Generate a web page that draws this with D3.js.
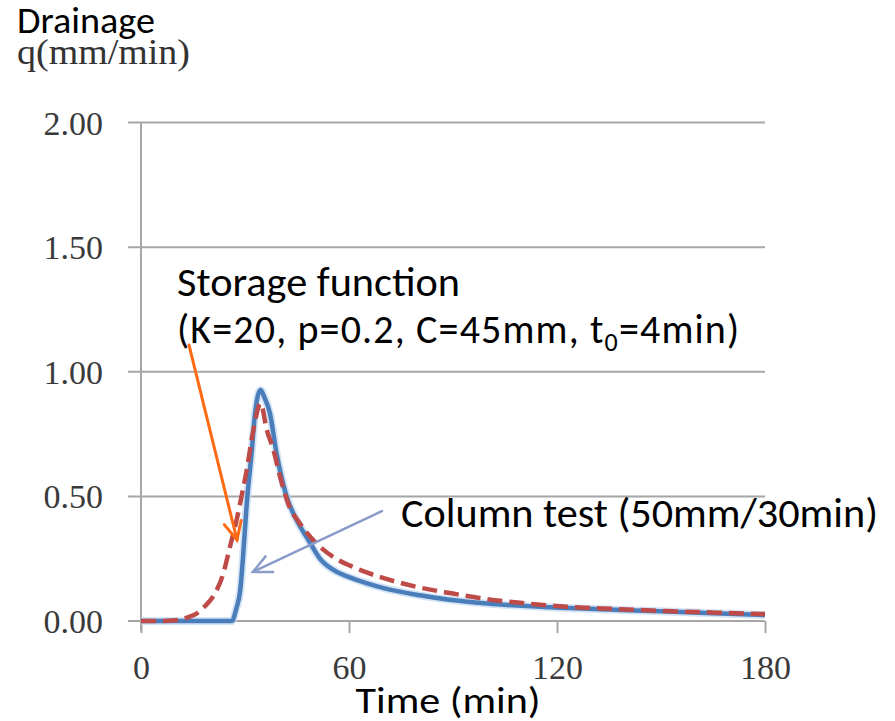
<!DOCTYPE html>
<html><head><meta charset="utf-8">
<script src="https://cdn.jsdelivr.net/npm/d3@7"></script>
<style>body{margin:0;background:#fff} svg{display:block}</style>
</head><body><svg id="c" width="895" height="721"></svg>
<script>
// ---- data ----
const xTicks = [0, 60, 120, 180];
const yTicks = [0, 0.5, 1, 1.5, 2];
// Column test (50mm/30min) - measured
const colTime = [0, 10, 20, 26.2, 27.5, 28.6, 29.5, 30.5, 31.9, 32.9, 34.5, 35.5, 37.2, 39.1, 42, 44.9, 48.3, 51.6, 56.5, 60, 65, 70, 80, 89, 100, 118, 135, 150, 165, 180];
const colQ    = [0, 0, 0, 0, 0.05, 0.12, 0.27, 0.47, 0.673, 0.833, 0.927, 0.9, 0.833, 0.673, 0.5, 0.405, 0.325, 0.25, 0.197, 0.176, 0.152, 0.132, 0.104, 0.085, 0.07, 0.055, 0.046, 0.039, 0.031, 0.024];
// Storage function (K=20, p=0.2, C=45mm, t0=4min)
const sfTime = [0, 5, 9, 11.2, 13.5, 16, 18.5, 21.3, 23.5, 25.7, 27.5, 29, 30.5, 32.4, 34.5, 36.3, 38.2, 40.1, 42.5, 45.9, 50.7, 56.5, 60.3, 64.1, 70, 79.5, 90, 98.6, 110, 122.8, 137, 151.6, 165, 180];
const sfQ    = [0, 0, 0.002, 0.006, 0.015, 0.03, 0.06, 0.11, 0.18, 0.30, 0.40, 0.50, 0.606, 0.766, 0.873, 0.766, 0.686, 0.58, 0.47, 0.39, 0.31, 0.248, 0.222, 0.2, 0.172, 0.137, 0.11, 0.09, 0.072, 0.057, 0.048, 0.04, 0.034, 0.028];
const seriesNames = ["Column test (50mm/30min)", "Storage function"];
const sfParams = "(K=20, p=0.2, C=45mm, t";

// ---- layout ----
const svg = d3.select("#c");
svg.append("rect").attr("width", 895).attr("height", 721).attr("fill", "#fff");
const x = d3.scaleLinear().domain([0, 180]).range([141, 765]);
const y = d3.scaleLinear().domain([0, 2]).range([621, 122.5]);
const gridCol = "#a6a6a6";
const serif = "'Liberation Serif','Times New Roman',serif";
const sans = "Carlito, Calibri, Lato, 'Open Sans', sans-serif";

// gridlines
svg.append("g").selectAll("line").data(yTicks).join("line")
  .attr("x1", x(0) - 13).attr("x2", x(180))
  .attr("y1", d => y(d)).attr("y2", d => y(d))
  .attr("stroke", gridCol).attr("stroke-width", 2);

// y axis
const yAxis = d3.axisLeft(y).tickValues(yTicks).tickFormat(d3.format(".2f")).tickSize(0).tickPadding(38);
const gy = svg.append("g").attr("transform", `translate(${x(0)},0)`).call(yAxis);
gy.select(".domain").remove();
gy.selectAll("text").attr("font-family", serif).attr("font-size", 34).attr("fill", "#3a3a3a").attr("dy", "0.34em");
svg.append("line").attr("x1", x(0)).attr("x2", x(0)).attr("y1", y(2)).attr("y2", y(0) + 10)
  .attr("stroke", gridCol).attr("stroke-width", 2);

// x axis
const xAxis = d3.axisBottom(x).tickValues(xTicks).tickFormat(d3.format("d")).tickSize(12).tickPadding(22);
const gx = svg.append("g").attr("transform", `translate(0,${y(0)})`).call(xAxis);
gx.select(".domain").attr("stroke", gridCol).attr("stroke-width", 2).attr("d", `M${x(0)},0H${x(180)}`);
gx.selectAll(".tick line").attr("stroke", gridCol).attr("stroke-width", 2);
gx.selectAll("text").attr("font-family", serif).attr("font-size", 34).attr("fill", "#3a3a3a");

// lines
const colData = colTime.map((t, i) => [t, colQ[i]]);
const sfData = sfTime.map((t, i) => [t, sfQ[i]]);
const line = d3.line().x(d => x(d[0])).y(d => y(d[1])).curve(d3.curveMonotoneX);
svg.append("path").datum(colData).attr("d", line).attr("fill", "none")
  .attr("stroke", "#c4daf2").attr("stroke-width", 8).attr("stroke-linejoin", "round").attr("opacity", 0.7);
svg.append("path").datum(colData).attr("d", line).attr("fill", "none")
  .attr("stroke", "#4a7ebb").attr("stroke-width", 4.5).attr("stroke-linejoin", "round");
svg.append("path").datum(sfData).attr("d", line).attr("fill", "none")
  .attr("stroke", "#be4b48").attr("stroke-width", 4.5).attr("stroke-dasharray", "15,7");

// annotation arrows (data coordinates)
function arrow(from, to, color, w) {
  const x1 = x(from[0]), y1 = y(from[1]), x2 = x(to[0]), y2 = y(to[1]);
  const a = Math.atan2(y2 - y1, x2 - x1), L = 20, s = 0.45;
  const g = svg.append("g").attr("stroke", color).attr("stroke-width", w).attr("fill", "none").attr("stroke-linecap", "round");
  g.append("line").attr("x1", x1).attr("y1", y1).attr("x2", x2).attr("y2", y2);
  g.append("path").attr("d", `M${x2 - L * Math.cos(a - s)},${y2 - L * Math.sin(a - s)}L${x2},${y2}L${x2 - L * Math.cos(a + s)},${y2 - L * Math.sin(a + s)}`);
}
arrow([13.85, 1.107], [27.7, 0.325], "#ff6a13", 3);
arrow([69.5, 0.441], [32.3, 0.197], "#8a9bc9", 2.5);

// texts
svg.append("text").attr("x", 17).attr("y", 64).attr("font-family", serif).attr("font-size", 35)
  .attr("fill", "#333").attr("textLength", 173).attr("lengthAdjust", "spacingAndGlyphs").text("q(mm/min)");
svg.append("rect").attr("x", 0).attr("y", 0).attr("width", 200).attr("height", 39).attr("fill", "#fff");
svg.append("text").attr("x", 17).attr("y", 33).attr("font-family", sans).attr("font-size", 36)
  .attr("fill", "#000").attr("textLength", 138).attr("lengthAdjust", "spacingAndGlyphs").text("Drainage");

svg.append("text").attr("x", 177).attr("y", 296).attr("font-family", sans).attr("font-size", 40)
  .attr("textLength", 283).attr("lengthAdjust", "spacingAndGlyphs").text(seriesNames[1]);
const t2 = svg.append("text").attr("x", 177).attr("y", 343).attr("font-family", sans).attr("font-size", 40)
  .attr("letter-spacing", "1.15px");
t2.append("tspan").text(sfParams);
t2.append("tspan").attr("font-size", 26).attr("dy", 8).text("0");
t2.append("tspan").attr("dy", -8).text("=4min)");

svg.append("text").attr("x", 401).attr("y", 527).attr("font-family", sans).attr("font-size", 40)
  .attr("textLength", 477).attr("lengthAdjust", "spacingAndGlyphs").text(seriesNames[0]);

svg.append("text").attr("x", 448).attr("y", 713).attr("text-anchor", "middle").attr("font-family", sans).attr("font-size", 37)
  .attr("textLength", 185).attr("lengthAdjust", "spacingAndGlyphs").text("Time (min)");
</script>
</body></html>
